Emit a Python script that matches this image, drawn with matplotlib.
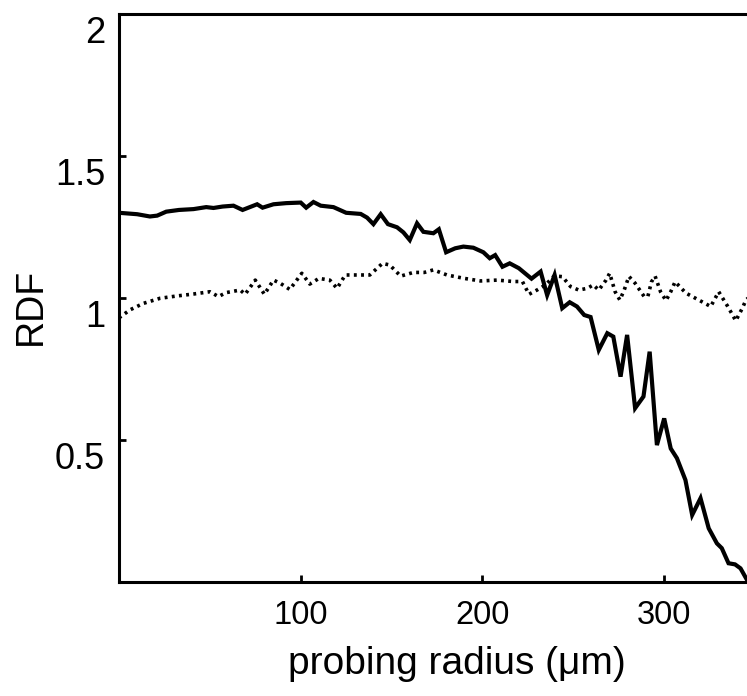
import matplotlib
matplotlib.use("Agg")
import matplotlib.pyplot as plt
from matplotlib.transforms import ScaledTranslation

plt.rcParams["font.family"] = ["Liberation Sans", "DejaVu Sans"]

# RDF for solid curve
solidRadius = [0, 10, 17, 21, 26, 33, 41, 48, 52, 57, 63, 68, 72, 76, 79, 85, 92,
               100, 103, 107, 111, 118, 125, 133, 136.5, 140, 144, 148, 153, 156.5,
               160, 164, 167.5, 173, 176, 180, 185, 189.5, 195, 200.5, 204, 207,
               211, 215, 220, 227, 232, 235.6, 239.7, 243.9, 248, 252, 256, 259.5,
               264, 268.7, 272, 276, 279.6, 284, 288.6, 292, 296, 300, 303.6, 307,
               311.7, 315.4, 320, 324.5, 329, 331.7, 335.4, 339, 342, 345.6, 350]
solidRdf = [1.30, 1.295, 1.287, 1.29, 1.304, 1.31, 1.313, 1.32, 1.317, 1.322,
            1.325, 1.31, 1.32, 1.33, 1.318, 1.33, 1.334, 1.336, 1.318, 1.338,
            1.325, 1.32, 1.30, 1.296, 1.283, 1.26, 1.295, 1.26, 1.249, 1.231,
            1.204, 1.263, 1.233, 1.228, 1.242, 1.161, 1.175, 1.181, 1.177, 1.161,
            1.14, 1.151, 1.11, 1.122, 1.105, 1.068, 1.093, 1.01, 1.081, 0.964,
            0.985, 0.97, 0.94, 0.933, 0.817, 0.876, 0.864, 0.723, 0.87, 0.612,
            0.653, 0.811, 0.482, 0.576, 0.47, 0.436, 0.359, 0.236, 0.295, 0.189,
            0.136, 0.119, 0.066, 0.062, 0.048, 0.007, 0.0]

# RDF for dotted curve
dottedRadius = [0, 6, 13.4, 22.6, 31.7, 41, 50, 54.7, 59, 66.7, 69.4, 75, 80, 85,
                88.7, 94, 100.6, 105, 110, 116, 120, 124.5, 131, 138, 145, 149,
                155, 162, 168, 173, 180.5, 190, 199, 208, 217, 222, 225.6, 230,
                234.7, 239.5, 244, 248.5, 253, 257.7, 261, 264, 268, 270, 273,
                275.6, 278, 280.6, 284, 289, 291, 293, 295, 298, 301, 303.6, 306,
                312, 319, 325.6, 330, 335, 339.4, 343, 345, 348]
dottedRdf = [0.93, 0.958, 0.981, 0.999, 1.007, 1.014, 1.022, 1.005, 1.019, 1.028,
             1.013, 1.063, 1.013, 1.063, 1.052, 1.03, 1.087, 1.049, 1.069, 1.063,
             1.034, 1.081, 1.081, 1.081, 1.122, 1.116, 1.077, 1.09, 1.09, 1.099,
             1.081, 1.069, 1.06, 1.063, 1.058, 1.058, 1.013, 1.028, 1.046, 1.078,
             1.075, 1.04, 1.028, 1.034, 1.046, 1.028, 1.063, 1.087, 1.022, 0.993,
             1.028, 1.076, 1.052, 1.005, 1.005, 1.057, 1.077, 1.022, 0.991, 1.022,
             1.057, 1.017, 0.993, 0.97, 1.022, 0.97, 0.92, 0.964, 0.993, 1.01]

xTicks = [100, 200, 300]
yTicks = [0.5, 1, 1.5, 2]
yTickLabels = ["0.5", "1", "1.5", "2"]

fig = plt.figure(figsize=(7.47, 6.96), dpi=100)
# the original axes runs past the right edge of the picture
ax = fig.add_axes([0.1593, 0.1638, 0.905, 0.8161])

ax.plot(solidRadius, solidRdf, color="black", lw=3.0, solid_joinstyle="miter")
ax.plot(dottedRadius, dottedRdf, color="black", lw=2.6, linestyle=(0, (0.8, 1.2)))

ax.set_xlim(0, 372)
ax.set_ylim(0, 2)
ax.set_xticks(xTicks)
ax.set_xticklabels([str(t) for t in xTicks])
ax.set_yticks(yTicks)
ax.set_yticklabels(yTickLabels)

for side in ["left", "bottom", "top", "right"]:
    ax.spines[side].set_linewidth(2.2)

ax.tick_params(axis="both", direction="in", length=5, width=2, colors="black")
ax.tick_params(axis="x", labelsize=23.5, pad=13)
ax.tick_params(axis="y", labelsize=26, pad=10)

# y labels sit a little below their ticks in the source figure
shiftDown = ScaledTranslation(0, -11 / 72, fig.dpi_scale_trans)
for tick in ax.yaxis.get_major_ticks():
    tick.label1.set_transform(tick.label1.get_transform() + shiftDown)

ax.set_xlabel("probing radius (μm)", fontsize=28)
ax.xaxis.set_label_coords(0.5, -0.112)
ax.xaxis.label.set_verticalalignment("top")

fig.text(0.042, 0.56, "RDF", rotation=90, ha="center", va="center", fontsize=27)

fig.savefig("out.png", dpi=100)
